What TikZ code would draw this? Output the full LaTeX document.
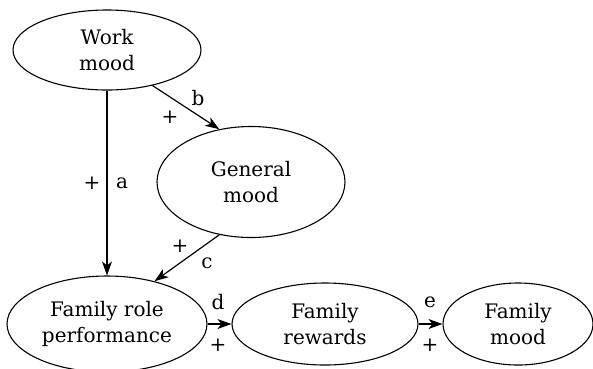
\documentclass[tikz,border=0pt]{standalone}
\usepackage{fontspec}
\setmainfont{DejaVu Serif}
\usetikzlibrary{shapes.geometric,arrows.meta}
\begin{document}
\begin{tikzpicture}[x=1pt,y=-1pt,
  every node/.style={font=\fontsize{20}{26}\selectfont},
  var/.style={draw,ellipse,line width=1.1pt,inner sep=0pt,align=center},
  link/.style={line width=1.2pt,-{Stealth[length=14pt,width=10pt,inset=4pt]}},
  sign/.style={inner sep=0pt}]
\useasboundingbox (0,0) rectangle (593,368);

% variables
\node[var,minimum width=188,minimum height=80]  (work) at (107,50)  {Work\\mood};
\node[var,minimum width=188,minimum height=111] (gen)  at (251,182) {General\\mood};
\node[var,minimum width=200,minimum height=96]  (frp)  at (107,324) {Family role\\performance};
\node[var,minimum width=186,minimum height=82]  (rew)  at (325,324) {Family\\rewards};
\node[var,minimum width=150,minimum height=82]  (fm)   at (518,324) {Family\\mood};

% paths
\draw[link] (work.south) -- (frp.north);
\draw[link] (work.-38) -- (gen.121);
\draw[link] (gen.-121) -- (frp.42);
\draw[link] (frp.east) -- (rew.west);
\draw[link] (rew.east) -- (fm.west);

% path labels and signs
\node[sign] (sa) at (92,183)  {+};
\node[sign] (la) at (122,183) {a};
\node[sign] (lb) at (198,98)  {b};
\node[sign] (sb) at (170,117) {+};
\node[sign] (sc) at (180,246) {+};
\node[sign] (lc) at (207,263) {c};
\node[sign] (ld) at (218,302) {d};
\node[sign] (sd) at (218,345) {+};
\node[sign] (le) at (430,302) {e};
\node[sign] (se) at (430,345) {+};
\end{tikzpicture}
\end{document}
